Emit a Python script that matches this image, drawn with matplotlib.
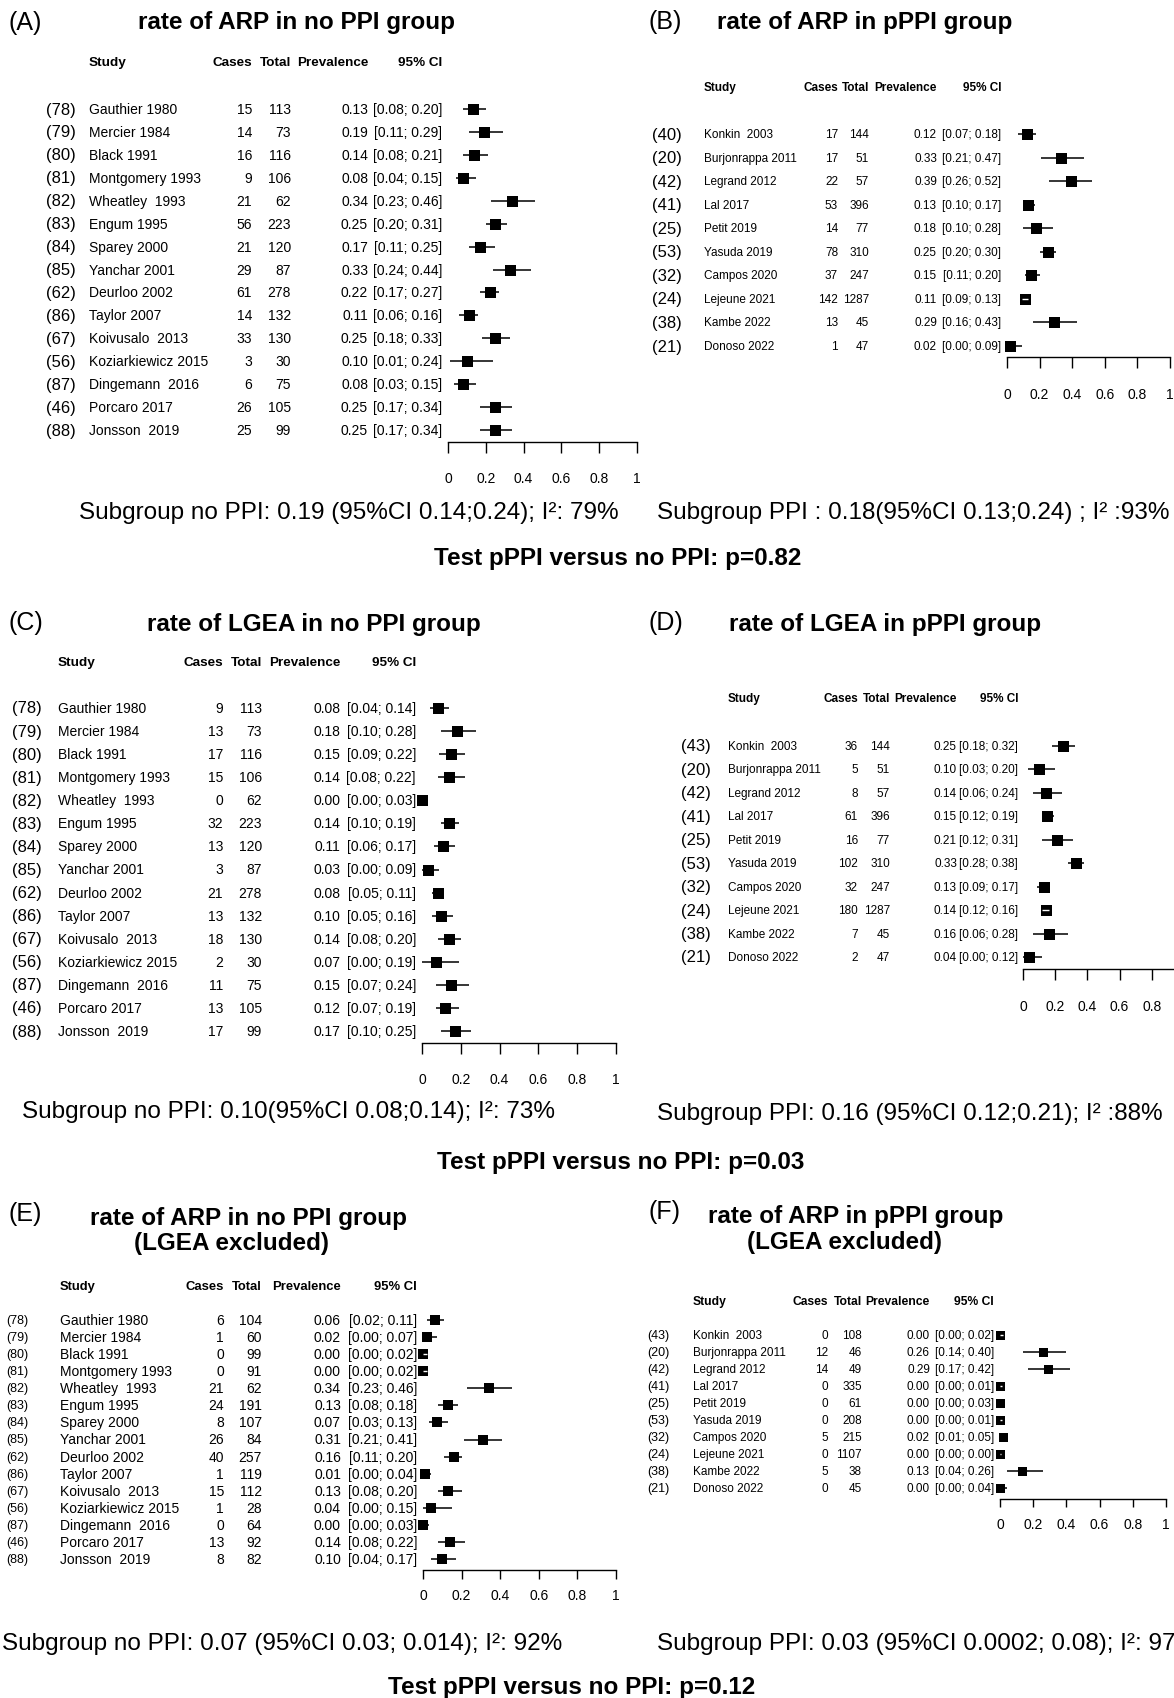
import matplotlib
matplotlib.use("Agg")
import matplotlib.pyplot as plt
from matplotlib.transforms import blended_transform_factory

W, H = 1174, 1699

plt.rcParams["font.family"] = ["Liberation Sans", "DejaVu Sans"]

# studies
refs_no_ppi = [78, 79, 80, 81, 82, 83, 84, 85, 62, 86, 67, 56, 87, 46, 88]
studies_no_ppi = ["Gauthier 1980", "Mercier 1984", "Black 1991", "Montgomery 1993",
                  "Wheatley  1993", "Engum 1995", "Sparey 2000", "Yanchar 2001",
                  "Deurloo 2002", "Taylor 2007", "Koivusalo  2013", "Koziarkiewicz 2015",
                  "Dingemann  2016", "Porcaro 2017", "Jonsson  2019"]
refs_ppi_b = [40, 20, 42, 41, 25, 53, 32, 24, 38, 21]
refs_ppi = [43, 20, 42, 41, 25, 53, 32, 24, 38, 21]
studies_ppi = ["Konkin  2003", "Burjonrappa 2011", "Legrand 2012", "Lal 2017", "Petit 2019",
               "Yasuda 2019", "Campos 2020", "Lejeune 2021", "Kambe 2022", "Donoso 2022"]

# (A) ARP, no PPI
a_cases = [15, 14, 16, 9, 21, 56, 21, 29, 61, 14, 33, 3, 6, 26, 25]
a_total = [113, 73, 116, 106, 62, 223, 120, 87, 278, 132, 130, 30, 75, 105, 99]
a_prev = [0.13, 0.19, 0.14, 0.08, 0.34, 0.25, 0.17, 0.33, 0.22, 0.11, 0.25, 0.10, 0.08, 0.25, 0.25]
a_lo = [0.08, 0.11, 0.08, 0.04, 0.23, 0.20, 0.11, 0.24, 0.17, 0.06, 0.18, 0.01, 0.03, 0.17, 0.17]
a_hi = [0.20, 0.29, 0.21, 0.15, 0.46, 0.31, 0.25, 0.44, 0.27, 0.16, 0.33, 0.24, 0.15, 0.34, 0.34]

# (B) ARP, pPPI
b_cases = [17, 17, 22, 53, 14, 78, 37, 142, 13, 1]
b_total = [144, 51, 57, 396, 77, 310, 247, 1287, 45, 47]
b_prev = [0.12, 0.33, 0.39, 0.13, 0.18, 0.25, 0.15, 0.11, 0.29, 0.02]
b_lo = [0.07, 0.21, 0.26, 0.10, 0.10, 0.20, 0.11, 0.09, 0.16, 0.00]
b_hi = [0.18, 0.47, 0.52, 0.17, 0.28, 0.30, 0.20, 0.13, 0.43, 0.09]

# (C) LGEA, no PPI
c_cases = [9, 13, 17, 15, 0, 32, 13, 3, 21, 13, 18, 2, 11, 13, 17]
c_total = [113, 73, 116, 106, 62, 223, 120, 87, 278, 132, 130, 30, 75, 105, 99]
c_prev = [0.08, 0.18, 0.15, 0.14, 0.00, 0.14, 0.11, 0.03, 0.08, 0.10, 0.14, 0.07, 0.15, 0.12, 0.17]
c_lo = [0.04, 0.10, 0.09, 0.08, 0.00, 0.10, 0.06, 0.00, 0.05, 0.05, 0.08, 0.00, 0.07, 0.07, 0.10]
c_hi = [0.14, 0.28, 0.22, 0.22, 0.03, 0.19, 0.17, 0.09, 0.11, 0.16, 0.20, 0.19, 0.24, 0.19, 0.25]

# (D) LGEA, pPPI
d_cases = [36, 5, 8, 61, 16, 102, 32, 180, 7, 2]
d_total = [144, 51, 57, 396, 77, 310, 247, 1287, 45, 47]
d_prev = [0.25, 0.10, 0.14, 0.15, 0.21, 0.33, 0.13, 0.14, 0.16, 0.04]
d_lo = [0.18, 0.03, 0.06, 0.12, 0.12, 0.28, 0.09, 0.12, 0.06, 0.00]
d_hi = [0.32, 0.20, 0.24, 0.19, 0.31, 0.38, 0.17, 0.16, 0.28, 0.12]

# (E) ARP, no PPI, LGEA excluded
e_cases = [6, 1, 0, 0, 21, 24, 8, 26, 40, 1, 15, 1, 0, 13, 8]
e_total = [104, 60, 99, 91, 62, 191, 107, 84, 257, 119, 112, 28, 64, 92, 82]
e_prev = [0.06, 0.02, 0.00, 0.00, 0.34, 0.13, 0.07, 0.31, 0.16, 0.01, 0.13, 0.04, 0.00, 0.14, 0.10]
e_lo = [0.02, 0.00, 0.00, 0.00, 0.23, 0.08, 0.03, 0.21, 0.11, 0.00, 0.08, 0.00, 0.00, 0.08, 0.04]
e_hi = [0.11, 0.07, 0.02, 0.02, 0.46, 0.18, 0.13, 0.41, 0.20, 0.04, 0.20, 0.15, 0.03, 0.22, 0.17]

# (F) ARP, pPPI, LGEA excluded
f_cases = [0, 12, 14, 0, 0, 0, 5, 0, 5, 0]
f_total = [108, 46, 49, 335, 61, 208, 215, 1107, 38, 45]
f_prev = [0.00, 0.26, 0.29, 0.00, 0.00, 0.00, 0.02, 0.00, 0.13, 0.00]
f_lo = [0.00, 0.14, 0.17, 0.00, 0.00, 0.00, 0.01, 0.00, 0.04, 0.00]
f_hi = [0.02, 0.40, 0.42, 0.01, 0.03, 0.01, 0.05, 0.00, 0.26, 0.04]

axis_ticks = [0, 0.2, 0.4, 0.6, 0.8, 1]
axis_labels = ["0", "0.2", "0.4", "0.6", "0.8", "1"]

subtitles = [
    "Subgroup no PPI: 0.19 (95%CI 0.14;0.24); I\u00b2: 79%",
    "Subgroup PPI : 0.18(95%CI 0.13;0.24) ; I\u00b2 :93%",
    "Subgroup no PPI: 0.10(95%CI 0.08;0.14); I\u00b2: 73%",
    "Subgroup PPI: 0.16 (95%CI 0.12;0.21); I\u00b2 :88%",
    "Subgroup no PPI: 0.07 (95%CI 0.03; 0.014); I\u00b2: 92%",
    "Subgroup PPI: 0.03 (95%CI 0.0002; 0.08); I\u00b2: 97%",
]
tests = ["Test pPPI versus no PPI: p=0.82", "Test pPPI versus no PPI: p=0.03",
         "Test pPPI versus no PPI: p=0.12"]

# layout in pixels of the 1174x1699 canvas
wide = dict(fs=10, head_fs=9.7, ref_fs=12, ref_ha="right", sq=11, tick=11)
tight = dict(fs=8.5, head_fs=8.5, ref_fs=12, ref_ha="right", sq=11, tick=11)

panels = [
    dict(wide, label="(A)", label_xy=(9, 23), titles=[("rate of ARP in no PPI group", 297, 22)],
         header_y=63, row0=110, row_last=431, ref_x=76, name_x=89, cases_x=252, total_x=291,
         prev_x=368, ci_x=442, x0=448, x1=637, axis_y=443, label_y=477,
         sub=(349, 513, "center")),
    dict(tight, label="(B)", label_xy=(649, 22), titles=[("rate of ARP in pPPI group", 865, 22)],
         header_y=88, row0=135, row_last=347, ref_x=682, name_x=704, cases_x=838, total_x=869,
         prev_x=937, ci_x=1001, x0=1007, x1=1170, axis_y=358, label_y=393,
         sub=(657, 513, "left")),
    dict(wide, label="(C)", label_xy=(9, 623), titles=[("rate of LGEA in no PPI group", 314, 624)],
         header_y=663, row0=709, row_last=1032, ref_x=42, name_x=58, cases_x=223, total_x=262,
         prev_x=340, ci_x=416, x0=422, x1=616, axis_y=1044, label_y=1078,
         sub=(288, 1112, "center")),
    dict(tight, label="(D)", label_xy=(648, 623), titles=[("rate of LGEA in pPPI group", 885, 625)],
         header_y=699, row0=747, row_last=958, ref_x=711, name_x=728, cases_x=858, total_x=890,
         prev_x=957, ci_x=1018, x0=1023, x1=1184, axis_y=970, label_y=1005,
         sub=(657, 1114, "left")),
    dict(wide, label="(E)", label_xy=(9, 1214), head_fs=9.4, ref_fs=9, ref_ha="left",
         sq=10, tick=9,
         titles=[("rate of ARP in no PPI group", 248, 1219), ("(LGEA excluded)", 232, 1244)],
         header_y=1287, row0=1321, row_last=1560, ref_x=6, name_x=60, cases_x=224, total_x=262,
         prev_x=341, ci_x=417, x0=423, x1=616, axis_y=1571, label_y=1594,
         sub=(282, 1644, "center")),
    dict(tight, label="(F)", label_xy=(648, 1212), head_fs=8.7, ref_fs=9, ref_ha="left",
         sq=9, tick=8,
         titles=[("rate of ARP in pPPI group", 856, 1217), ("(LGEA excluded)", 845, 1243)],
         header_y=1302, row0=1336, row_last=1489, ref_x=647, name_x=693, cases_x=828, total_x=862,
         prev_x=930, ci_x=994, x0=1000, x1=1166, axis_y=1500, label_y=1523,
         sub=(657, 1644, "left")),
]
test_pos = [(618, 559), (621, 1162), (572, 1688)]

panel_data = [
    (refs_no_ppi, studies_no_ppi, a_cases, a_total, a_prev, a_lo, a_hi),
    (refs_ppi_b, studies_ppi, b_cases, b_total, b_prev, b_lo, b_hi),
    (refs_no_ppi, studies_no_ppi, c_cases, c_total, c_prev, c_lo, c_hi),
    (refs_ppi, studies_ppi, d_cases, d_total, d_prev, d_lo, d_hi),
    (refs_no_ppi, studies_no_ppi, e_cases, e_total, e_prev, e_lo, e_hi),
    (refs_ppi, studies_ppi, f_cases, f_total, f_prev, f_lo, f_hi),
]


def fx(x):
    return x / W


def fy(y):
    return 1 - y / H


def draw_forest(fig, lay, refs, studies, cases, total, prev, lo, hi):
    n = len(studies)
    step = (lay["row_last"] - lay["row0"]) / (n - 1)
    top_px = lay["row0"] - step
    x0, x1, axis_y = lay["x0"], lay["x1"], lay["axis_y"]
    ax = fig.add_axes([fx(x0), fy(axis_y), (x1 - x0) / W, (axis_y - top_px) / H])
    ax.set_xlim(0, 1)
    ax.set_ylim((axis_y - lay["row0"]) / step, -1)
    ax.patch.set_alpha(0)

    rows = list(range(n))
    ax.hlines(rows, lo, hi, color="black", lw=1.1, clip_on=False, zorder=2)
    ax.plot(prev, rows, "s", ms=lay["sq"] * 0.72, color="black", mew=0,
            clip_on=False, zorder=3)
    # CI inside the square is drawn in white, as meta does
    half = lay["sq"] / 2 / (x1 - x0)
    for i in rows:
        if lo[i] > prev[i] - half and hi[i] < prev[i] + half:
            ax.hlines(i, lo[i], max(hi[i], lo[i] + 0.006), color="white", lw=1.0,
                      clip_on=False, zorder=4)

    for side in ["top", "left", "right"]:
        ax.spines[side].set_visible(False)
    ax.spines["bottom"].set_bounds(0, 1)
    ax.spines["bottom"].set_linewidth(1.0)
    ax.set_yticks([])
    ax.set_xticks(axis_ticks)
    ax.set_xticklabels(axis_labels)
    tick_fs = 10
    em = tick_fs * 100 / 72
    pad_px = lay["label_y"] - axis_y - lay["tick"] - 0.36 * em
    ax.tick_params(axis="x", direction="out", length=lay["tick"] * 0.72, width=1.0,
                   pad=pad_px * 0.72, labelsize=tick_fs)
    for lbl in ax.get_xticklabels():
        lbl.set_clip_on(False)

    tr = blended_transform_factory(fig.transFigure, ax.transData)
    body = dict(fontsize=lay["fs"], va="center", transform=tr)
    head = dict(body, fontsize=lay["head_fs"], weight="bold")
    hy = (lay["header_y"] - lay["row0"]) / step
    ax.text(fx(lay["name_x"]), hy, "Study", ha="left", **head)
    ax.text(fx(lay["cases_x"]), hy, "Cases", ha="right", **head)
    ax.text(fx(lay["total_x"]), hy, "Total", ha="right", **head)
    ax.text(fx(lay["prev_x"]), hy, "Prevalence", ha="right", **head)
    ax.text(fx(lay["ci_x"]), hy, "95% CI", ha="right", **head)

    ref_style = dict(body, fontsize=lay["ref_fs"])
    for i in rows:
        ax.text(fx(lay["ref_x"]), i, f"({refs[i]})", ha=lay["ref_ha"], **ref_style)
        ax.text(fx(lay["name_x"]), i, studies[i], ha="left", **body)
        ax.text(fx(lay["cases_x"]), i, str(cases[i]), ha="right", **body)
        ax.text(fx(lay["total_x"]), i, str(total[i]), ha="right", **body)
        ax.text(fx(lay["prev_x"]), i, f"{prev[i]:.2f}", ha="right", **body)
        ax.text(fx(lay["ci_x"]), i, f"[{lo[i]:.2f}; {hi[i]:.2f}]", ha="right", **body)
    return ax


fig = plt.figure(figsize=(W / 100, H / 100), dpi=100)
fig.patch.set_facecolor("white")

for lay, data, sub in zip(panels, panel_data, subtitles):
    draw_forest(fig, lay, *data)
    lx, ly = lay["label_xy"]
    fig.text(fx(lx), fy(ly), lay["label"], ha="left", va="center", fontsize=18)
    for text, tx, ty in lay["titles"]:
        fig.text(fx(tx), fy(ty), text, ha="center", va="center", fontsize=17.5, weight="bold")
    sx, sy, sha = lay["sub"]
    fig.text(fx(sx), fy(sy), sub, ha=sha, va="center", fontsize=17.5)

for text, (tx, ty) in zip(tests, test_pos):
    fig.text(fx(tx), fy(ty), text, ha="center", va="center", fontsize=17.5, weight="bold")

fig.savefig("out.png", dpi=100)
